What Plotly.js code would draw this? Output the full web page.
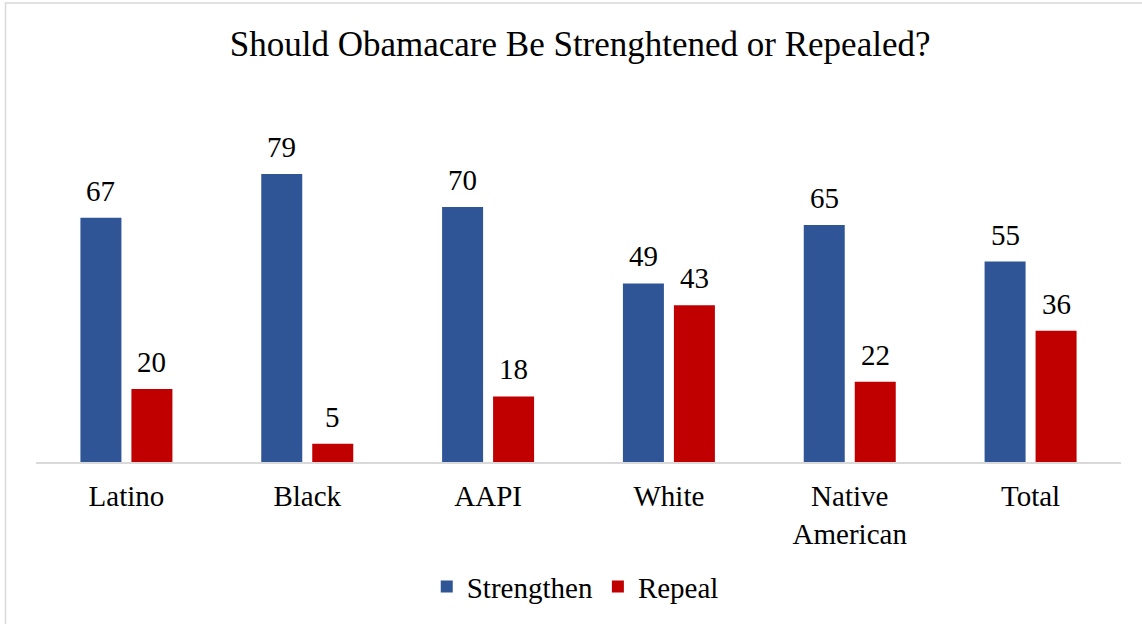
<!DOCTYPE html>
<html>
<head>
<meta charset="utf-8">
<script src="https://cdn.plot.ly/plotly-3.0.1.min.js"></script>
<style>html,body{margin:0;padding:0;background:#fff;}#chart{width:1142px;height:624px;}</style>
</head>
<body>
<div id="chart"></div>
<script>
const categories = ["Latino", "Black", "AAPI", "White", "Native<br>American", "Total"];
const strengthen = [67, 79, 70, 49, 65, 55];
const repeal = [20, 5, 18, 43, 22, 36];
const seriesNames = ["Strengthen", "Repeal"];
const chartTitle = "Should Obamacare Be Strenghtened or Repealed?";

const BLUE = "#2F5597", RED = "#C00000";
const FONT = "Liberation Serif";

const traces = [
  {type: "bar", name: seriesNames[0], x: categories, y: strengthen, marker: {color: BLUE}, hoverinfo: "skip"},
  {type: "bar", name: seriesNames[1], x: categories, y: repeal, marker: {color: RED}, hoverinfo: "skip"}
];

const annotations = [];
categories.forEach((c, i) => {
  annotations.push({x: c, y: strengthen[i], xref: "x", yref: "y", text: String(strengthen[i]), showarrow: false,
    xshift: -25.5, yshift: 9, yanchor: "bottom", font: {family: FONT, size: 29, color: "#000"}});
  annotations.push({x: c, y: repeal[i], xref: "x", yref: "y", text: String(repeal[i]), showarrow: false,
    xshift: 25.5, yshift: 9, yanchor: "bottom", font: {family: FONT, size: 29, color: "#000"}});
});

const layout = {
  width: 1142, height: 624,
  margin: {l: 36, r: 21, t: 134, b: 162},
  paper_bgcolor: "#fff", plot_bgcolor: "#fff",
  font: {family: FONT, size: 29, color: "#000"},
  title: {text: chartTitle, font: {family: FONT, size: 35, color: "#000"}, x: 0.508, xanchor: "center", y: 1 - 44/624, yanchor: "middle", yref: "container"},
  barmode: "group", bargap: 0.436, bargroupgap: 0.196,
  xaxis: {showline: true, linecolor: "#D9D9D9", linewidth: 1.5, ticks: "", showgrid: false, zeroline: false,
    tickfont: {family: FONT, size: 29, color: "#000"}, ticklabelstandoff: 8, fixedrange: true},
  yaxis: {range: [0, 90], visible: false, showgrid: false, zeroline: false, fixedrange: true},
  showlegend: true,
  legend: {orientation: "h", x: 0.497, xanchor: "center", y: -0.38, yanchor: "middle", yref: "paper",
    font: {family: FONT, size: 29, color: "#000"}, itemwidth: 30, traceorder: "normal", itemclick: false},
  annotations: annotations,
  shapes: [
    {type: "rect", xref: "paper", yref: "paper", x0: (5.5 - 36) / 1085, x1: 1.05, y0: -0.6, y1: (462 - 3) / 328,
     line: {color: "#D9D9D9", width: 1.5}, fillcolor: "rgba(0,0,0,0)", layer: "below"}
  ]
};

Plotly.newPlot("chart", traces, layout, {displayModeBar: false, staticPlot: true});
</script>
</body>
</html>
